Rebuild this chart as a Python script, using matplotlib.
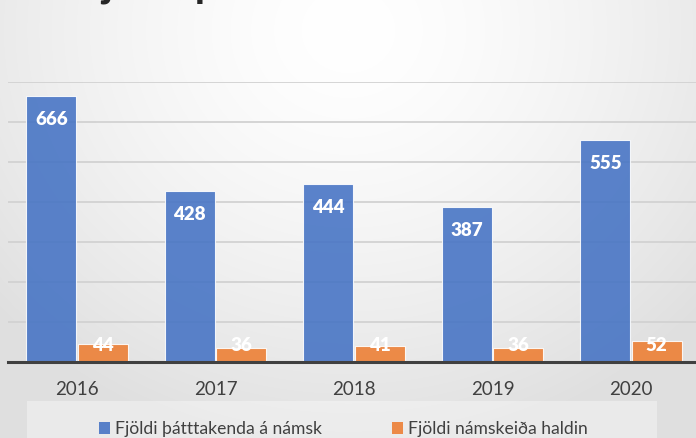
import numpy as np
import matplotlib
matplotlib.use("Agg")
import matplotlib.pyplot as plt
from matplotlib.patches import Patch, Rectangle

years = ["2016", "2017", "2018", "2019", "2020"]
participants = [666, 428, 444, 387, 555]
courses = [44, 36, 41, 36, 52]
series_names = ["Fjöldi þátttakenda á námsk", "Fjöldi námskeiða haldin"]
title = "Fjöldi þátttakenda á námskeiðum"

W, H = 696, 438
plt.rcParams['font.family'] = ['Lato', 'DejaVu Sans']
fig = plt.figure(figsize=(W / 100, H / 100), dpi=100)

# radial background gradient
bg = fig.add_axes([0, 0, 1, 1], zorder=-10)
yy, xx = np.mgrid[0:H, 0:W]
d = np.sqrt((xx - 348) ** 2 + ((yy - 30) * 1.1) ** 2)
t = np.clip(d / 470, 0, 1) ** 1.5
lo = np.array([0.875, 0.875, 0.875])
img = (1 - t)[..., None] * np.ones(3) + t[..., None] * lo
bg.imshow(img, extent=(0, 1, 0, 1), aspect='auto', origin='upper')
bg.axis('off')

# legend box
fig.patches.append(Rectangle((27 / W, 0), (657 - 27) / W, (H - 401) / H,
                             transform=fig.transFigure, facecolor='white',
                             alpha=0.35, edgecolor='none', zorder=-5))

left = 7.75 / W
width = 692.5 / W
bottom = (H - 362) / H
height = 280 / H
ax = fig.add_axes([left, bottom, width, height])
ax.set_facecolor('none')

x = np.arange(len(years))
bw = 0.36
off = 0.186
blue = '#4472C4'
orange = '#ED7D31'
ax.bar(x - off, participants, bw, color=blue, alpha=0.88, zorder=3,
       edgecolor=(1, 1, 1, 0.35), linewidth=0.8)
ax.bar(x + off, courses, bw, color=orange, alpha=0.88, zorder=3,
       edgecolor=(1, 1, 1, 0.35), linewidth=0.8)

for xi, v in zip(x, participants):
    ax.annotate(str(v), xy=(xi - off, v), xytext=(0, -20.9), textcoords='offset points',
                ha='center', va='baseline', color='white', fontweight='heavy', fontsize=13.5, zorder=5)
for xi, v in zip(x, courses):
    ax.annotate(str(v), xy=(xi + off, 0), xytext=(0, 8.1), textcoords='offset points',
                ha='center', va='baseline', color='white', fontweight='heavy', fontsize=13.5, zorder=5)

ax.set_xlim(-0.5, len(years) - 0.5)
ax.set_ylim(0, 700)
ax.set_yticks(np.arange(100, 701, 100))
ax.yaxis.grid(True, color='#d2d2d2', linewidth=1.3, zorder=0)
ax.set_axisbelow(True)
ax.tick_params(axis='y', left=False, labelleft=False)
ax.set_xticks(x)
ax.set_xticklabels(years, fontsize=13.5, color='#404040')
ax.tick_params(axis='x', length=0, pad=13.5)
for s in ['top', 'right', 'left']:
    ax.spines[s].set_visible(False)
ax.spines['bottom'].set_color('#404040')
ax.spines['bottom'].set_linewidth(2.2)
ax.spines['bottom'].set_zorder(6)

handles = [Patch(facecolor=blue, alpha=0.88), Patch(facecolor=orange, alpha=0.88)]
ax.legend(handles, series_names, ncol=2, loc='center',
          bbox_to_anchor=(343.5 / W, (H - 429) / H), bbox_transform=fig.transFigure,
          frameon=False, fontsize=12.6, labelcolor='#404040',
          handlelength=0.62, handleheight=0.62, handletextpad=0.3, columnspacing=4.0)

fig.text(78 / W, 1 + 4 / H, title, ha='left', va='baseline', fontsize=31,
         fontweight='bold', color='#262626')

fig.savefig('out.png', dpi=100)
